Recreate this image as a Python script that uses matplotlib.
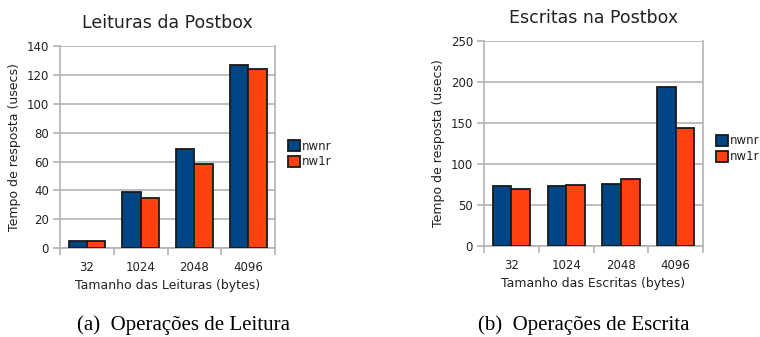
import matplotlib.pyplot as plt
import numpy as np

sizes = ['32', '1024', '2048', '4096']
series = ['nwnr', 'nw1r']

# leituras (usecs)
read_nwnr = [5, 39, 69, 127]
read_nw1r = [5, 34.5, 58, 124]

# escritas (usecs)
write_nwnr = [73, 73, 76, 194]
write_nw1r = [69, 75, 82, 144]

BLUE = '#004586'
ORANGE = '#ff420e'
GRID = '#b3b3b3'
TXT = '#222222'

plt.rcParams['font.family'] = ['DejaVu Sans']


def drawchart(ax, a, b, title, xlabel, ymax, ystep, legx, legy):
    x = np.arange(len(sizes))
    w = 0.34
    ax.bar(x - w / 2, a, w, color=BLUE, edgecolor='#1a1a1a', linewidth=1.3, label=series[0], zorder=3)
    ax.bar(x + w / 2, b, w, color=ORANGE, edgecolor='#1a1a1a', linewidth=1.3, label=series[1], zorder=3)
    ax.set_xlim(-0.5, len(sizes) - 0.5)
    ax.set_ylim(0, ymax)
    ax.set_yticks(np.arange(0, ymax + 1, ystep))
    ax.set_xticks(x)
    ax.set_xticklabels(sizes)
    ax.set_xticks(np.arange(-0.5, len(sizes)), minor=True)
    ax.tick_params(axis='x', which='major', length=0, pad=9, labelsize=8.5, labelcolor=TXT)
    ax.tick_params(axis='x', which='minor', length=5, color=GRID, width=1.2)
    ax.tick_params(axis='y', length=5, color=GRID, width=1.2, pad=3, labelsize=8.5, labelcolor=TXT)
    ax.yaxis.grid(True, color=GRID, linewidth=1.2, zorder=0)
    ax.set_axisbelow(True)
    for s in ['left', 'right', 'bottom', 'top']:
        ax.spines[s].set_color(GRID)
        ax.spines[s].set_linewidth(1.2)
    ax.spines['top'].set_visible(False)
    ax.set_title(title, fontsize=12.5, color=TXT, pad=13)
    ax.set_xlabel(xlabel, fontsize=9, color=TXT, labelpad=4)
    ax.set_ylabel('Tempo de resposta (usecs)', fontsize=9, color=TXT, labelpad=4)
    ax.legend(loc='center left', bbox_to_anchor=(legx, legy), bbox_transform=ax.figure.transFigure,
              frameon=False, fontsize=8.5, handlelength=1.0, handleheight=1.0, handletextpad=0.2,
              labelspacing=0.25, borderpad=0, borderaxespad=0, labelcolor=TXT)


fig = plt.figure(figsize=(7.6, 3.37), dpi=100)
ax1 = fig.add_axes([0.079, 0.264, 0.283, 0.599])
ax2 = fig.add_axes([0.637, 0.270, 0.288, 0.608])

drawchart(ax1, read_nwnr, read_nw1r, 'Leituras da Postbox', 'Tamanho das Leituras (bytes)', 140, 20,
          0.379, 0.543)
drawchart(ax2, write_nwnr, write_nw1r, 'Escritas na Postbox', 'Tamanho das Escritas (bytes)', 250, 50,
          0.942, 0.558)

fig.text(0.2415, 0.02, '(a)  Operações de Leitura', ha='center', va='baseline',
         fontsize=15, family='Liberation Serif')
fig.text(0.768, 0.02, '(b)  Operações de Escrita', ha='center', va='baseline',
         fontsize=15, family='Liberation Serif')

fig.savefig('out.png', dpi=100)
